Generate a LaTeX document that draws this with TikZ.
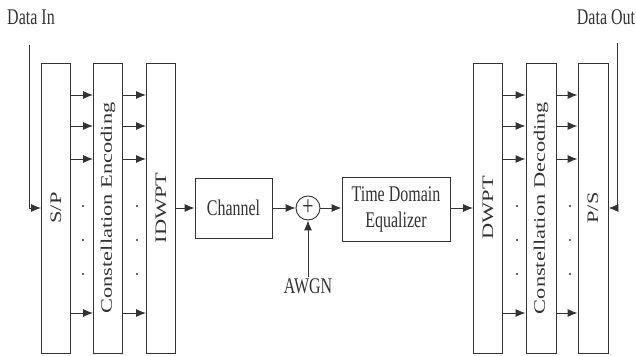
\documentclass[tikz,border=0pt]{standalone}
\usepackage{fontspec}
\setmainfont{Liberation Serif}
\usepackage{graphicx}
\usetikzlibrary{arrows.meta,positioning,calc}
\definecolor{Ink}{HTML}{333333}
\newcommand{\tall}[1]{\scalebox{1}[1.4]{#1}}
\newcommand{\vtall}[1]{\rotatebox{90}{\scalebox{1.4}[1]{#1}}}

\begin{document}
\begin{tikzpicture}[
    x=0.75pt, y=-0.75pt,
    bar/.style={draw=Ink, fill=white, line width=0.7pt, minimum width=21.75pt, minimum height=217.5pt, inner sep=0pt, font=\fontsize{12}{14}\selectfont, text=Ink},
    box/.style={draw=Ink, fill=white, line width=0.7pt, inner sep=0pt, align=center, font=\fontsize{12}{14}\selectfont, text=Ink},
    txt/.style={inner sep=1pt, font=\fontsize{12}{14}\selectfont, text=Ink},
    arrow/.style={-{Latex[length=7.5pt,width=6pt]}, line width=0.7pt, draw=Ink}
  ]
    \useasboundingbox (0,0) rectangle (636,356);

    % transmitter
    \node[bar] (sp) at (56,208) {\vtall{S/P}};
    \node[bar] (enc) at (108,208) {\vtall{Constellation Encoding}};
    \node[bar] (idwpt) at (161,208) {\vtall{IDWPT}};

    % channel
    \node[box, minimum width=57.75pt, minimum height=45pt] (chan) at (233.5,208) {\tall{Channel}};
    \node[circle, draw=Ink, line width=0.7pt, minimum size=18pt, inner sep=0pt, text=Ink, font=\fontsize{15}{15}\selectfont] (sum) at (308,208) {\tall{+}};
    \node[box, minimum width=81pt, minimum height=48pt] (eq) at (396,209) {\tall{\begin{tabular}{@{}c@{}}Time Domain\\Equalizer\end{tabular}}};

    % receiver
    \node[bar] (dwpt) at (488,208) {\vtall{DWPT}};
    \node[bar, minimum width=22.5pt] (dec) at (541,208) {\vtall{Constellation Decoding}};
    \node[bar, minimum width=22.5pt] (ps) at (593,208) {\vtall{P/S}};

    \node[txt] (din) at (31,17) {\tall{Data In}};
    \node[txt] (dout) at (606,17) {\tall{Data Out}};
    \node[txt] (awgn) at (308,286) {\tall{AWGN}};
    \coordinate (dinstart) at (29,45);
    \coordinate (doutstart) at (617,43);

    % parallel branches
    \foreach \y [count=\i] in {95,126,159,313} {
      \coordinate (row\i) at (0,\y);
      \draw[arrow] (sp.east |- row\i) -- (enc.west |- row\i);
      \draw[arrow] (enc.east |- row\i) -- (idwpt.west |- row\i);
      \draw[arrow] (dwpt.east |- row\i) -- (dec.west |- row\i);
      \draw[arrow] (dec.east |- row\i) -- (ps.west |- row\i);
    }
    \foreach \x in {83,137,517,570}
      \foreach \y in {206,240,274}
        \fill[Ink] (\x,\y) circle (0.9pt);

    \draw[arrow] (dinstart) |- (sp.west);
    \draw[arrow] (idwpt.east |- chan) -- (chan);
    \draw[arrow] (chan) -- (sum);
    \draw[arrow] (sum) -- (sum -| eq.west);
    \draw[arrow] (awgn) -- (sum);
    \draw[arrow] (eq.east |- sum) -- (dwpt.west |- sum);
    \draw[arrow] (doutstart) |- (ps.east);
  \end{tikzpicture}
\end{document}
